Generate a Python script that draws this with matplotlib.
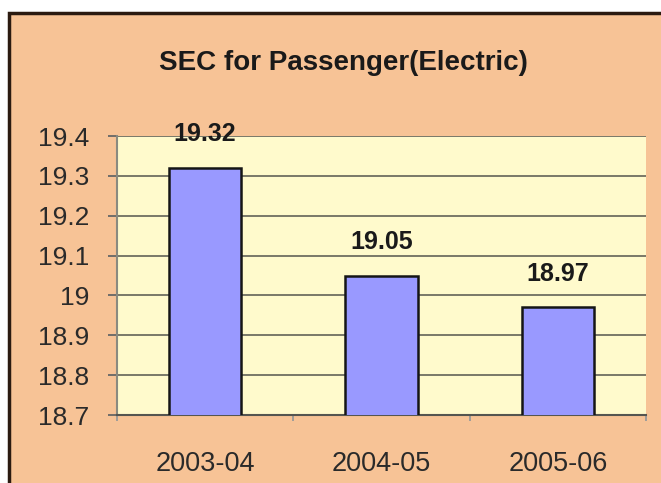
import matplotlib
matplotlib.use("Agg")
import matplotlib.pyplot as plt
from matplotlib.patches import Rectangle

years = ["2003-04", "2004-05", "2005-06"]
sec_values = [19.32, 19.05, 18.97]
y_ticks = [18.7, 18.8, 18.9, 19.0, 19.1, 19.2, 19.3, 19.4]
y_tick_labels = ["18.7", "18.8", "18.9", "19", "19.1", "19.2", "19.3", "19.4"]

plt.rcParams["font.family"] = ["Liberation Sans", "DejaVu Sans"]

W, H = 661, 483
fig = plt.figure(figsize=(W / 100, H / 100), dpi=100)
fig.patch.set_facecolor("white")

# orange chart area with dark border on top/left
bg = Rectangle((9 / W, -0.05), 1.1, (H - 13) / H + 0.05, transform=fig.transFigure,
               facecolor="#F7C396", edgecolor="#2b1a10", linewidth=2.5, zorder=-5)
fig.patches.append(bg)

ax = fig.add_axes([117 / W, (H - 415) / H, (646 - 117) / W, (415 - 136) / H])
ax.set_zorder(1)
ax.set_facecolor("#FFFACC")

x = range(len(years))
bars = ax.bar(x, sec_values, width=0.41, color="#9999FF", edgecolor="#151515",
              linewidth=1.8, zorder=3)

for xi, v in zip(x, sec_values):
    ax.text(xi, v + 0.085, f"{v:.2f}", ha="center", va="center",
            fontsize=18, fontweight="bold", color="#1a1a1a", zorder=4, clip_on=False)

ax.set_ylim(18.7, 19.4)
ax.set_xlim(-0.5, 2.5)
ax.set_yticks(y_ticks)
ax.set_yticklabels(y_tick_labels, fontsize=19, color="#2a2a2a")
ax.set_xticks(list(x))
ax.set_xticklabels(years, fontsize=19.5, color="#2a2a2a")
ax.tick_params(axis="x", length=0, pad=26)
ax.tick_params(axis="y", length=6.5, color="#666666", width=1.3, pad=13.5)
ax.set_xticks([-0.5, 0.5, 1.5, 2.5], minor=True)
ax.tick_params(axis="x", which="minor", length=4.3, color="#999999", width=1.3)

ax.yaxis.grid(True, color="#6e6e60", linewidth=1.3, zorder=0)
ax.set_axisbelow(True)
for side in ["top", "right"]:
    ax.spines[side].set_visible(False)
ax.spines["left"].set_color("#8a8a80")
ax.spines["left"].set_linewidth(1.5)
ax.spines["bottom"].set_color("#555550")
ax.spines["bottom"].set_linewidth(1.5)

fig.text(343 / W, 1 - 63 / H, "SEC for Passenger(Electric)", ha="center", va="center",
         fontsize=20, fontweight="bold", color="#1a1a1a")

fig.savefig("out.png", dpi=100)
